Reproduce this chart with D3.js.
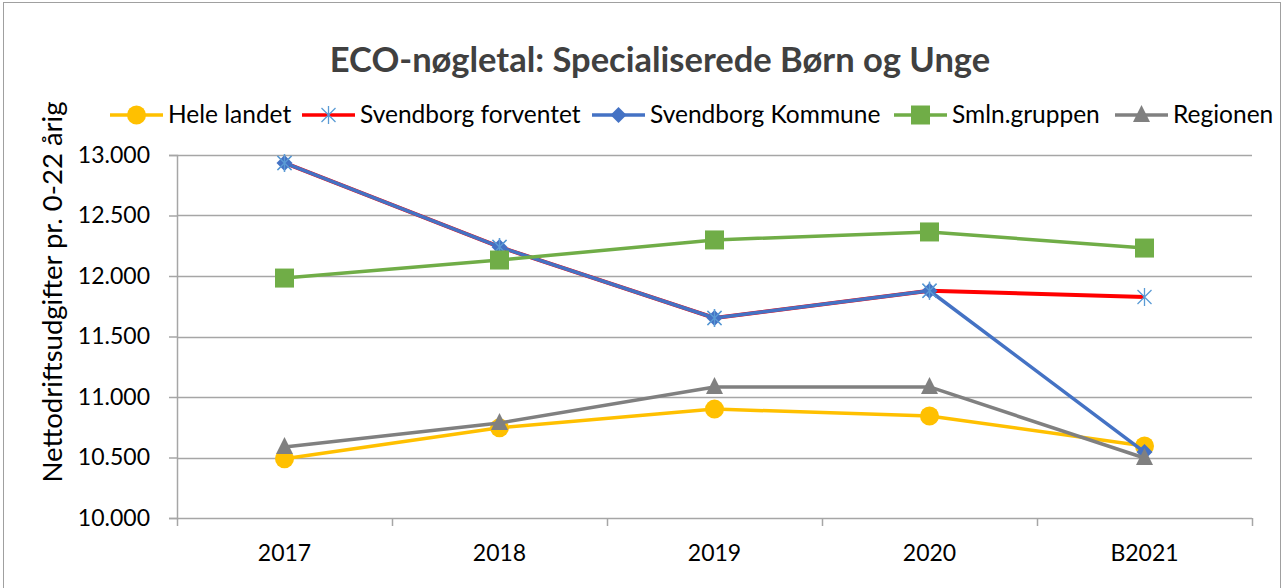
<!DOCTYPE html>
<html>
<head>
<meta charset="utf-8">
<script src="https://cdn.jsdelivr.net/npm/d3@7"></script>
<style>
body { margin: 0; background: #fff; }
text { font-family: Lato, "Open Sans", sans-serif; fill: #000; }
</style>
</head>
<body>
<script>
// data
var years = ["2017", "2018", "2019", "2020", "B2021"];
var heleLandet = [10490, 10745, 10900, 10843, 10595];
var svbForventet = [12934, 12240, 11653, 11878, 11826];
var svbKommune = [12934, 12240, 11653, 11878, 10545];
var smlnGruppen = [11983, 12132, 12298, 12364, 12231];
var regionen = [10587, 10785, 11083, 11083, 10496];
var yTicks = [10000, 10500, 11000, 11500, 12000, 12500, 13000];

var series = [
  {name: "Hele landet", values: heleLandet, color: "#FFC000", marker: "circle"},
  {name: "Svendborg forventet", values: svbForventet, color: "#FF0000", marker: "star"},
  {name: "Svendborg Kommune", values: svbKommune, color: "#4472C4", marker: "diamond"},
  {name: "Smln.gruppen", values: smlnGruppen, color: "#70AD47", marker: "square"},
  {name: "Regionen", values: regionen, color: "#808080", marker: "triangle"}
];

var W = 1283, H = 588;
var margin = {top: 155, right: 31, bottom: 70, left: 177},
width = W - margin.left - margin.right,
height = H - margin.top - margin.bottom;

var svg = d3.select("body").append("svg")
.attr("width", W)
.attr("height", H);

// outer frame
svg.append("rect")
.attr("x", 3.5).attr("y", 2.5)
.attr("width", W - 6).attr("height", H + 10)
.attr("fill", "none").attr("stroke", "#A0A0A0").attr("stroke-width", 1);

svg.append("text")
.attr("x", 660).attr("y", 72)
.attr("text-anchor", "middle")
.style("font-size", "34.5px").style("font-weight", "bold").style("fill", "#404040")
.text("ECO-nøgletal: Specialiserede Børn og Unge");

var g = svg.append("g")
.attr("transform", "translate(" + margin.left + "," + margin.top + ")");

var x = d3.scaleBand().domain(years).range([0, width]);
var y = d3.scaleLinear().domain([10000, 13000]).range([height, 0]);

var fmt = function(d) { return d3.format(",")(d).replace(/,/g, "."); };

// gridlines
g.selectAll(".grid")
.data(yTicks)
.enter().append("line")
.attr("x1", 0).attr("x2", width)
.attr("y1", function(d) { return Math.round(y(d)) + 0.5; })
.attr("y2", function(d) { return Math.round(y(d)) + 0.5; })
.attr("stroke", "#A6A6A6").attr("stroke-width", 1.5);

var yAxis = g.append("g")
.call(d3.axisLeft(y).tickValues(yTicks).tickFormat(fmt).tickSize(8).tickPadding(19));
yAxis.select(".domain").attr("stroke", "#A6A6A6").attr("stroke-width", 1.5);
yAxis.selectAll(".tick line").attr("stroke", "#A6A6A6").attr("stroke-width", 1.5);
yAxis.selectAll("text").style("font-size", "23px").style("font-family", "Lato, sans-serif").attr("fill", "#000");

var xAxis = g.append("g")
.attr("transform", "translate(0," + height + ")")
.call(d3.axisBottom(x).tickSize(0).tickPadding(27));
xAxis.select(".domain").remove();
xAxis.selectAll("text").style("font-size", "23px").style("font-family", "Lato, sans-serif").attr("fill", "#000");

// category boundary ticks
g.selectAll(".xtick")
.data(d3.range(years.length + 1))
.enter().append("line")
.attr("x1", function(i) { return Math.round(i * x.step()) + 0.5; })
.attr("x2", function(i) { return Math.round(i * x.step()) + 0.5; })
.attr("y1", height).attr("y2", height + 8)
.attr("stroke", "#A6A6A6").attr("stroke-width", 1.5);

svg.append("text")
.attr("transform", "translate(62,292) rotate(-90)")
.attr("text-anchor", "middle")
.style("font-size", "27.5px")
.text("Nettodriftsudgifter pr. 0-22 årig");

function drawMarker(sel, s) {
  if (s.marker === "circle") {
    sel.append("circle").attr("r", 9.5).attr("fill", s.color);
  } else if (s.marker === "square") {
    sel.append("rect").attr("x", -9.5).attr("y", -9.5).attr("width", 19).attr("height", 19).attr("fill", s.color);
  } else if (s.marker === "diamond") {
    sel.append("path").attr("d", "M0,-8L8,0L0,8L-8,0Z").attr("fill", s.color);
  } else if (s.marker === "triangle") {
    sel.append("path").attr("d", "M0,-10L8.5,7L-8.5,7Z").attr("fill", s.color);
  } else if (s.marker === "star") {
    sel.append("path").attr("d", "M-7,-7L7,7M-7,7L7,-7M0,-9L0,9")
    .attr("stroke", "#5B9BD5").attr("stroke-width", 1.3).attr("fill", "none");
  }
}

var line = d3.line()
.x(function(d, i) { return x(years[i]) + x.bandwidth() / 2; })
.y(function(d) { return y(d); });

series.forEach(function(s) {
  var sg = g.append("g");
  sg.append("path")
  .datum(s.values)
  .attr("d", line)
  .attr("fill", "none")
  .attr("stroke", s.color)
  .attr("stroke-width", s.marker === "star" ? 4 : 3.5)
  .attr("stroke-linejoin", "round");
  s.values.forEach(function(v, i) {
    var m = sg.append("g").attr("transform", "translate(" + (x(years[i]) + x.bandwidth() / 2) + "," + y(v) + ")");
    drawMarker(m, s);
    // Svendborg forventet star is visible under diamonds too
    if (s.marker === "diamond" && i < 4) {
      drawMarker(m, {marker: "star"});
    }
  });
});

// legend
var legendText = [168, 360, 650, 952, 1173];
series.forEach(function(s, i) {
  var lg = svg.append("g").attr("transform", "translate(" + (legendText[i] - 58) + ",115)");
  lg.append("line").attr("x1", 0).attr("x2", 53).attr("stroke", s.color).attr("stroke-width", 3.5);
  var m = lg.append("g").attr("transform", "translate(26.5,0)");
  drawMarker(m, s);
  lg.append("text").attr("x", 58).attr("y", 8).style("font-size", "24.5px").text(s.name);
});
</script>
</body>
</html>
